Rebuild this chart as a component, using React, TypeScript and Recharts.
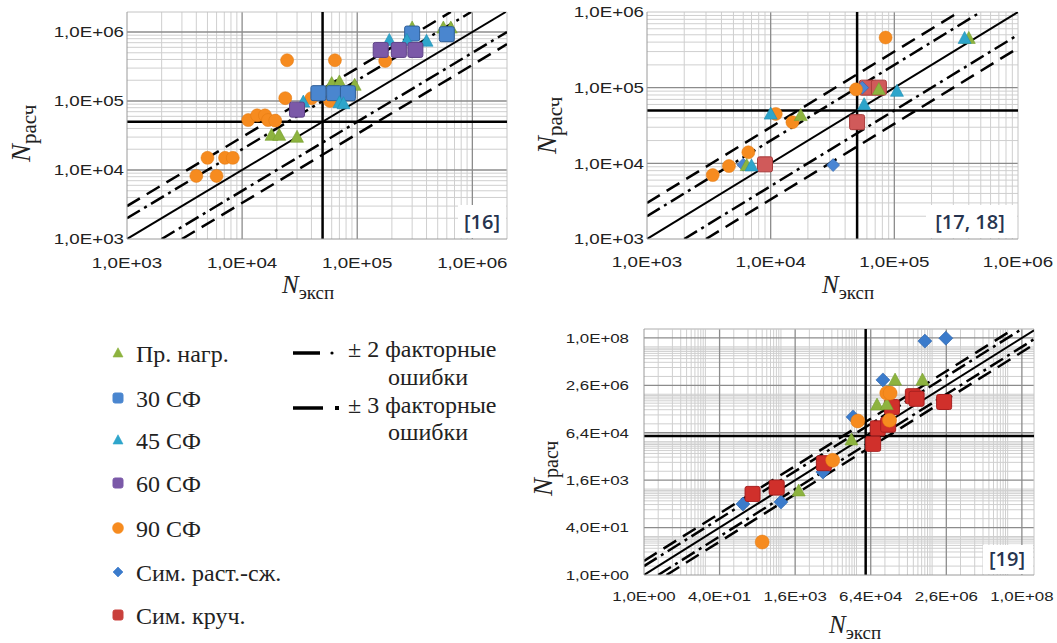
import React from 'react';
import { ScatterChart, Scatter, XAxis, YAxis, ReferenceLine } from 'recharts';

type Pt = { x: number; y: number };
type Kind = 'triangle' | 'square' | 'circle' | 'diamond';

// ---------------- Panel [16] ----------------
const p16Ticks = [1e3, 1e4, 1e5, 1e6];
const p16Load: Pt[] = [
  { x: 18000, y: 32000 }, { x: 21000, y: 32000 }, { x: 30000, y: 30000 },
  { x: 60000, y: 180000 }, { x: 70000, y: 190000 }, { x: 95000, y: 170000 },
  { x: 300000, y: 1150000 }, { x: 560000, y: 1150000 }, { x: 650000, y: 1150000 },
];
const p16Sf30: Pt[] = [
  { x: 46000, y: 130000 }, { x: 63000, y: 130000 }, { x: 83000, y: 130000 },
  { x: 300000, y: 950000 }, { x: 600000, y: 930000 },
];
const p16Sf45: Pt[] = [
  { x: 34000, y: 97000 }, { x: 70000, y: 95000 }, { x: 76000, y: 92000 },
  { x: 190000, y: 760000 }, { x: 270000, y: 760000 }, { x: 400000, y: 740000 },
];
const p16Sf60: Pt[] = [
  { x: 30000, y: 75000 }, { x: 160000, y: 550000 }, { x: 230000, y: 550000 }, { x: 320000, y: 550000 },
];
const p16Sf90: Pt[] = [
  { x: 4000, y: 8200 }, { x: 5000, y: 15000 }, { x: 6000, y: 8200 }, { x: 7100, y: 15000 },
  { x: 8300, y: 15000 }, { x: 11300, y: 53000 }, { x: 13500, y: 62000 }, { x: 15800, y: 62000 },
  { x: 16800, y: 53000 }, { x: 19400, y: 52000 }, { x: 23700, y: 110000 }, { x: 24600, y: 390000 },
  { x: 40000, y: 110000 }, { x: 58000, y: 100000 }, { x: 64000, y: 390000 }, { x: 175000, y: 380000 },
];

// ---------------- Panel [17, 18] ----------------
const p17Ticks = [1e3, 1e4, 1e5, 1e6];
const p17Load: Pt[] = [
  { x: 6400, y: 9400 }, { x: 17500, y: 43000 }, { x: 75000, y: 95000 }, { x: 400000, y: 450000 },
];
const p17Sf45: Pt[] = [
  { x: 7000, y: 9300 }, { x: 10000, y: 45000 }, { x: 57000, y: 60000 },
  { x: 105000, y: 90000 }, { x: 370000, y: 450000 },
];
const p17Sf90: Pt[] = [
  { x: 3400, y: 7000 }, { x: 4600, y: 9200 }, { x: 6600, y: 14000 }, { x: 11000, y: 45000 },
  { x: 15000, y: 35000 }, { x: 49000, y: 95000 }, { x: 85000, y: 460000 },
];
const p17SymTC: Pt[] = [
  { x: 6000, y: 9600 }, { x: 32000, y: 9500 }, { x: 55000, y: 100000 },
];
const p17SymTor: Pt[] = [
  { x: 9000, y: 9700 }, { x: 50000, y: 35000 }, { x: 60000, y: 100000 }, { x: 75000, y: 100000 },
];

// ---------------- Panel [19] ----------------
const p19Ticks = [1, 40, 1600, 64000, 2560000, 102400000];
const p19Load: Pt[] = [
  { x: 1900, y: 700 }, { x: 25000, y: 37000 }, { x: 87000, y: 560000 },
  { x: 140000, y: 580000 }, { x: 210000, y: 3900000 }, { x: 800000, y: 3900000 },
];
const p19Sf90: Pt[] = [
  { x: 320, y: 13 }, { x: 10000, y: 7500 }, { x: 34000, y: 160000 },
  { x: 140000, y: 1400000 }, { x: 165000, y: 1400000 }, { x: 160000, y: 170000 },
];
const p19SymTC: Pt[] = [
  { x: 125, y: 250 }, { x: 800, y: 290 }, { x: 6200, y: 3000 }, { x: 27000, y: 220000 },
  { x: 116000, y: 3900000 }, { x: 900000, y: 80000000 }, { x: 2500000, y: 100000000 },
];
const p19SymTor: Pt[] = [
  { x: 200, y: 550 }, { x: 650, y: 900 }, { x: 6500, y: 6000 }, { x: 72000, y: 27000 },
  { x: 90000, y: 90000 }, { x: 150000, y: 120000 }, { x: 180000, y: 470000 },
  { x: 500000, y: 1100000 }, { x: 600000, y: 900000 }, { x: 2300000, y: 700000 },
];

// ---------------- Legend / labels ----------------
const legendLabels = ['Пр. нагр.', '30 СФ', '45 СФ', '60 СФ', '90 СФ', 'Сим. раст.-сж.', 'Сим. круч.'];
const factorLabels = ['± 2 факторные', '± 3 факторные'];
const factorSub = 'ошибки';
const panelRefs = ['[16]', '[17, 18]', '[19]'];
const crossValue = 5e4;

// ---------------- styles ----------------
const COL = {
  load: '#8DB33F', sf30: '#4A86CF', sf45: '#2EA5CB', sf60: '#7B59A8',
  sf90: '#F68B1F', symTC: '#3B7BCB', symTor: '#C9403C',
};
const SANS = "'Liberation Sans', Arimo, Arial, 'DejaVu Sans', sans-serif";
const SERIF = "'Liberation Serif', Tinos, 'Times New Roman', 'DejaVu Serif', serif";
const LABELF = "'Open Sans', 'Noto Sans', sans-serif";

const fmtE = (v: number): string => {
  let e = Math.floor(Math.log10(v) + 1e-9);
  let ms = (v / Math.pow(10, e)).toFixed(1);
  if (ms === '10.0') { e += 1; ms = '1.0'; }
  return `${ms.replace('.', ',')}E${e < 0 ? '-' : '+'}${String(Math.abs(e)).padStart(2, '0')}`;
};

const minor10 = (lo: number, hi: number) => {
  const out: number[] = [];
  for (let e = Math.floor(Math.log10(lo)); e <= Math.ceil(Math.log10(hi)); e++)
    for (let k = 2; k <= 9; k++) { const v = k * Math.pow(10, e); if (v > lo && v < hi) out.push(v); }
  return out;
};
const minor40 = (lo: number, hi: number) => {
  const out: number[] = [];
  for (let n = 0; n <= 6; n++)
    for (let k = 2; k <= 20; k += 2) { const v = k * Math.pow(40, n); if (v > lo && v < hi) out.push(v); }
  return out;
};

function Marker({ kind, cx, cy, size, fill, stroke }: { kind: Kind; cx: number; cy: number; size: number; fill: string; stroke: string }) {
  const h = size / 2;
  if (cx == null || cy == null || isNaN(cx) || isNaN(cy)) return <g />;
  switch (kind) {
    case 'triangle':
      return <polygon points={`${cx},${cy - h * 1.05} ${cx - h},${cy + h * 0.8} ${cx + h},${cy + h * 0.8}`} fill={fill} stroke={stroke} strokeWidth={0.6} />;
    case 'square':
      return <rect x={cx - h} y={cy - h} width={size} height={size} rx={2} fill={fill} stroke={stroke} strokeWidth={1} />;
    case 'circle':
      return <circle cx={cx} cy={cy} r={h} fill={fill} stroke={stroke} strokeWidth={0.5} />;
    default:
      return <polygon points={`${cx},${cy - h} ${cx + h},${cy} ${cx},${cy + h} ${cx - h},${cy}`} fill={fill} stroke={stroke} strokeWidth={0.6} />;
  }
}

type SeriesDef = { name: string; data: Pt[]; kind: Kind; fill: string; stroke: string; size: number };

const makeTickX = (fs: number) => (props: any) => {
  const { x, y, payload } = props;
  return (
    <g transform={`translate(${x},${y})`}>
      <text transform="scale(1.25,1)" textAnchor="middle" dy="0.71em" fontSize={fs} style={{ fontFamily: SANS }} fill="#222">
        {fmtE(payload.value)}
      </text>
    </g>
  );
};
const makeTickY = (fs: number) => (props: any) => {
  const { x, y, payload } = props;
  return (
    <g transform={`translate(${x},${y})`}>
      <text transform="scale(1.25,1)" textAnchor="end" dy="0.355em" fontSize={fs} style={{ fontFamily: SANS }} fill="#222">
        {fmtE(payload.value)}
      </text>
    </g>
  );
};

const diagDefs = [
  { f: 1, dash: undefined as string | undefined, w: 2 },
  { f: 2, dash: '15 5 3 5', w: 2.5 },
  { f: 0.5, dash: '15 5 3 5', w: 2.5 },
  { f: 3, dash: '15 8', w: 2.5 },
  { f: 1 / 3, dash: '15 8', w: 2.5 },
];

type PanelProps = {
  left: number; top: number; width: number; height: number;
  margin: { top: number; right: number; bottom: number; left: number };
  yAxisWidth: number; xDomain: [number, number]; yDomain: [number, number];
  ticks: number[]; minorX: number[]; minorY: number[]; tickFont: number;
  tickMarginX: number; tickMarginY: number; series: SeriesDef[];
};

function Panel(p: PanelProps) {
  const [xl, xh] = p.xDomain;
  const [yl, yh] = p.yDomain;
  const majX = p.ticks.filter(v => v > xl && v < xh);
  const majY = p.ticks.filter(v => v > yl && v < yh);
  const TX = makeTickX(p.tickFont);
  const TY = makeTickY(p.tickFont);
  return (
    <div style={{ position: 'absolute', left: p.left, top: p.top }}>
      <ScatterChart width={p.width} height={p.height} margin={p.margin}>
        <XAxis type="number" dataKey="x" scale="log" domain={p.xDomain} allowDataOverflow ticks={p.ticks} interval={0}
          height={30} tickLine={false} tickSize={0} tickMargin={p.tickMarginX} axisLine={{ stroke: '#9a9a9a' }} tick={TX} />
        <YAxis type="number" dataKey="y" scale="log" domain={p.yDomain} allowDataOverflow ticks={p.ticks} interval={0}
          width={p.yAxisWidth} tickLine={false} tickSize={0} tickMargin={p.tickMarginY} axisLine={{ stroke: '#9a9a9a' }} tick={TY} />
        {p.minorX.map(v => <ReferenceLine key={`mx${v}`} x={v} stroke="#cfcfcf" strokeWidth={1} />)}
        {p.minorY.map(v => <ReferenceLine key={`my${v}`} y={v} stroke="#cfcfcf" strokeWidth={1} />)}
        {majX.map(v => <ReferenceLine key={`Mx${v}`} x={v} stroke="#8c8c8c" strokeWidth={1.3} />)}
        {majY.map(v => <ReferenceLine key={`My${v}`} y={v} stroke="#8c8c8c" strokeWidth={1.3} />)}
        <ReferenceLine x={xh} stroke="#c4c4c4" strokeWidth={1} />
        <ReferenceLine y={yh} stroke="#c4c4c4" strokeWidth={1} />
        {diagDefs.map((d, i) => {
          const x0 = Math.max(xl, yl / d.f);
          const x1 = Math.min(xh, yh / d.f);
          return (
            <ReferenceLine key={`d${i}`} ifOverflow="hidden"
              segment={[{ x: x0, y: x0 * d.f }, { x: x1, y: x1 * d.f }]}
              stroke="#000" strokeWidth={d.w} strokeDasharray={d.dash} />
          );
        })}
        <ReferenceLine x={crossValue} stroke="#000" strokeWidth={2.5} />
        <ReferenceLine y={crossValue} stroke="#000" strokeWidth={2.5} />
        {p.series.map(s => (
          <Scatter key={s.name} name={s.name} data={s.data} isAnimationActive={false} fill={s.fill}
            shape={(pp: any) => <Marker kind={s.kind} cx={pp.cx} cy={pp.cy} size={s.size} fill={s.fill} stroke={s.stroke} />} />
        ))}
      </ScatterChart>
    </div>
  );
}

function XTitle({ x, y }: { x: number; y: number }) {
  return (
    <text x={x} y={y} style={{ fontFamily: SERIF }} fill="#222">
      <tspan fontSize={25} fontStyle="italic">N</tspan>
      <tspan fontSize={19} dy={6}>эксп</tspan>
    </text>
  );
}
function YTitle({ x, y, n = 27, s = 21 }: { x: number; y: number; n?: number; s?: number }) {
  return (
    <text transform={`translate(${x},${y}) rotate(-90)`} style={{ fontFamily: SERIF }} fill="#222">
      <tspan fontSize={n} fontStyle="italic">N</tspan>
      <tspan fontSize={s} dy={6}>расч</tspan>
    </text>
  );
}

function LegendIcon({ kind, cx, cy, fill }: { kind: Kind; cx: number; cy: number; fill: string }) {
  return <Marker kind={kind} cx={cx} cy={cy} size={kind === 'circle' ? 11 : 10} fill={fill} stroke={fill} />;
}

export default function App() {
  const legendKinds: Kind[] = ['triangle', 'square', 'triangle', 'square', 'circle', 'diamond', 'square'];
  const legendCols = [COL.load, COL.sf30, COL.sf45, COL.sf60, COL.sf90, COL.symTC, COL.symTor];
  const legendY = [353, 398, 440, 483, 528, 572, 615];

  const p16Series: SeriesDef[] = [
    { name: '90 СФ', data: p16Sf90, kind: 'circle', fill: COL.sf90, stroke: '#E07810', size: 13 },
    { name: 'Пр. нагр.', data: p16Load, kind: 'triangle', fill: COL.load, stroke: '#76A02E', size: 13 },
    { name: '30 СФ', data: p16Sf30, kind: 'square', fill: COL.sf30, stroke: '#2F5F98', size: 15 },
    { name: '45 СФ', data: p16Sf45, kind: 'triangle', fill: COL.sf45, stroke: '#1E8FB3', size: 13 },
    { name: '60 СФ', data: p16Sf60, kind: 'square', fill: COL.sf60, stroke: '#5F4388', size: 15 },
  ];
  const p17Series: SeriesDef[] = [
    { name: 'Сим. круч.', data: p17SymTor, kind: 'square', fill: '#D05A5A', stroke: '#A83A3A', size: 15 },
    { name: 'Сим. раст.-сж.', data: p17SymTC, kind: 'diamond', fill: '#4A86D4', stroke: '#2F63A8', size: 13 },
    { name: '90 СФ', data: p17Sf90, kind: 'circle', fill: COL.sf90, stroke: '#E07810', size: 13 },
    { name: 'Пр. нагр.', data: p17Load, kind: 'triangle', fill: COL.load, stroke: '#76A02E', size: 13 },
    { name: '45 СФ', data: p17Sf45, kind: 'triangle', fill: COL.sf45, stroke: '#1E8FB3', size: 13 },
  ];
  const p19Series: SeriesDef[] = [
    { name: 'Сим. раст.-сж.', data: p19SymTC, kind: 'diamond', fill: COL.symTC, stroke: '#2A62A8', size: 14 },
    { name: 'Сим. круч.', data: p19SymTor, kind: 'square', fill: '#D0302B', stroke: '#A82020', size: 15 },
    { name: 'Пр. нагр.', data: p19Load, kind: 'triangle', fill: COL.load, stroke: '#76A02E', size: 13 },
    { name: '90 СФ', data: p19Sf90, kind: 'circle', fill: COL.sf90, stroke: '#E07810', size: 14 },
  ];

  const txt = { fontFamily: SERIF };

  return (
    <div style={{ position: 'absolute', left: 0, top: 0, width: 1057, height: 643, background: '#fff', overflow: 'hidden' }}>
      <Panel left={0} top={0} width={520} height={300} margin={{ top: 12, right: 13, bottom: 31, left: 0 }}
        yAxisWidth={127} xDomain={[1e3, 2e6]} yDomain={[1e3, 1.95e6]} ticks={p16Ticks} tickFont={15}
        minorX={minor10(1e3, 2e6)} minorY={minor10(1e3, 1.95e6)} tickMarginX={18} tickMarginY={3} series={p16Series} />
      <Panel left={520} top={0} width={537} height={300} margin={{ top: 12, right: 39, bottom: 31, left: 0 }}
        yAxisWidth={127} xDomain={[1e3, 1e6]} yDomain={[1e3, 1e6]} ticks={p17Ticks} tickFont={15}
        minorX={minor10(1e3, 1e6)} minorY={minor10(1e3, 1e6)} tickMarginX={17} tickMarginY={3} series={p17Series} />
      <Panel left={540} top={300} width={517} height={343} margin={{ top: 29, right: 23, bottom: 38, left: 0 }}
        yAxisWidth={104} xDomain={[1, 1.85e8]} yDomain={[1, 2.05e8]} ticks={p19Ticks} tickFont={13.5}
        minorX={minor40(1, 1.85e8)} minorY={minor40(1, 2.05e8)} tickMarginX={16} tickMarginY={15} series={p19Series} />

      <svg width={1057} height={643} style={{ position: 'absolute', left: 0, top: 0, pointerEvents: 'none' }}>
        {/* reference boxes */}
        <rect x={458} y={205} width={48} height={33} fill="#fff" />
        <text x={482} y={229} textAnchor="middle" fontSize={20} fontWeight={600} style={{ fontFamily: LABELF }} fill="#26344F">{panelRefs[0]}</text>
        <rect x={926} y={205} width={91} height={33} fill="#fff" />
        <text x={970} y={229} textAnchor="middle" fontSize={20} fontWeight={600} style={{ fontFamily: LABELF }} fill="#26344F">{panelRefs[1]}</text>
        <rect x={983} y={545} width={50} height={29} fill="#fff" />
        <text x={1007} y={566} textAnchor="middle" fontSize={20} fontWeight={600} style={{ fontFamily: LABELF }} fill="#26344F">{panelRefs[2]}</text>

        {/* axis titles */}
        <XTitle x={282} y={293} />
        <YTitle x={30} y={162} />
        <XTitle x={822} y={293} />
        <YTitle x={556} y={154} />
        <XTitle x={829} y={633} />
        <YTitle x={552} y={496} n={27} s={20} />

        {/* series legend */}
        {legendLabels.map((lab, i) => (
          <g key={lab}>
            <LegendIcon kind={legendKinds[i]} cx={118} cy={legendY[i]} fill={legendCols[i]} />
            <text x={136} y={legendY[i] + 9} fontSize={24} style={txt} fill="#222">{lab}</text>
          </g>
        ))}

        {/* factor legend */}
        <line x1={293} y1={353} x2={320} y2={353} stroke="#000" strokeWidth={3.5} />
        <circle cx={332} cy={353} r={1.6} fill="#000" />
        <text x={348} y={357} fontSize={24} style={txt} fill="#222">{factorLabels[0]}</text>
        <text x={388} y={385} fontSize={24} style={txt} fill="#222">{factorSub}</text>
        <line x1={293} y1={408} x2={323} y2={408} stroke="#000" strokeWidth={3.5} />
        <rect x={335} y={406} width={4} height={4} fill="#000" />
        <text x={348} y={413} fontSize={24} style={txt} fill="#222">{factorLabels[1]}</text>
        <text x={388} y={440} fontSize={24} style={txt} fill="#222">{factorSub}</text>
      </svg>
    </div>
  );
}
